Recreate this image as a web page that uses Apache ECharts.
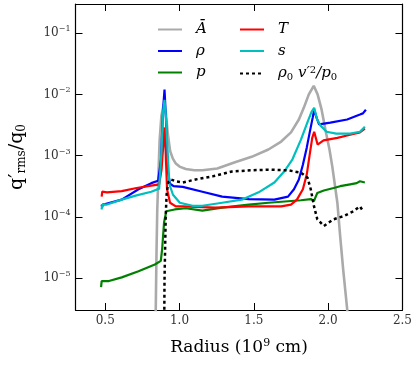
<!DOCTYPE html>
<html>
<head>
<meta charset="utf-8">
<script src="https://cdn.jsdelivr.net/npm/echarts@6/dist/echarts.min.js"></script>
<style>
  html, body { margin: 0; padding: 0; background: #fff; }
  #chart { width: 415px; height: 365px; }
</style>
</head>
<body>
<div id="chart"></div>
<script>
// values: [radius (1e9 cm), log10(q'rms/q0)]
const aBarLog = [[0.83,-6.5],[0.840,-5.51],[0.845,-4.6],[0.850,-3.9],[0.858,-3.3],[0.866,-2.75],[0.878,-2.35],[0.893,-2.17],
  [0.909,-2.32],[0.920,-2.62],[0.937,-2.93],[0.955,-3.05],[0.975,-3.13],[1.00,-3.18],[1.042,-3.22],[1.10,-3.24],[1.154,-3.24],
  [1.254,-3.21],[1.373,-3.11],[1.485,-3.02],[1.598,-2.90],[1.684,-2.77],[1.750,-2.62],[1.803,-2.41],[1.836,-2.22],[1.870,-2.00],
  [1.903,-1.86],[1.929,-2.00],[1.956,-2.25],[1.982,-2.58],[2.009,-2.90],[2.028,-3.18],[2.062,-3.77],[2.081,-4.32],[2.101,-4.86],
  [2.128,-5.51],[2.14,-6.0]];
const rhoLog = [[0.476,-3.80],[0.479,-3.85],[0.483,-3.80],[0.50,-3.79],[0.611,-3.72],[0.724,-3.55],[0.810,-3.45],[0.856,-3.41],
  [0.876,-3.06],[0.889,-2.25],[0.899,-1.92],[0.909,-2.41],[0.919,-3.23],[0.936,-3.46],[0.96,-3.50],[1.022,-3.51],[1.154,-3.59],
  [1.287,-3.67],[1.466,-3.71],[1.638,-3.72],[1.730,-3.67],[1.770,-3.55],[1.803,-3.39],[1.830,-3.15],[1.856,-2.87],[1.876,-2.62],
  [1.896,-2.38],[1.906,-2.25],[1.922,-2.38],[1.939,-2.49],[2.015,-2.46],[2.128,-2.41],[2.214,-2.33],[2.234,-2.31],[2.254,-2.25]];
const pLog = [[0.472,-5.15],[0.476,-5.05],[0.479,-5.08],[0.525,-5.05],[0.611,-4.99],[0.724,-4.89],[0.834,-4.78],[0.874,-4.72],
  [0.883,-4.53],[0.896,-4.09],[0.911,-3.91],[0.967,-3.88],[1.042,-3.86],[1.154,-3.90],[1.287,-3.85],[1.466,-3.80],[1.598,-3.77],
  [1.817,-3.73],[1.883,-3.71],[1.905,-3.74],[1.927,-3.61],[1.971,-3.57],[2.037,-3.53],[2.081,-3.50],[2.148,-3.47],[2.192,-3.45],
  [2.214,-3.42],[2.247,-3.44]];
const tLog = [[0.476,-3.67],[0.480,-3.59],[0.512,-3.60],[0.611,-3.58],[0.711,-3.53],[0.810,-3.49],[0.863,-3.47],[0.879,-3.23],
  [0.893,-2.74],[0.899,-2.54],[0.906,-2.90],[0.916,-3.55],[0.936,-3.77],[0.975,-3.83],[1.022,-3.83],[1.240,-3.85],[1.466,-3.83],
  [1.684,-3.83],[1.750,-3.80],[1.790,-3.72],[1.830,-3.55],[1.856,-3.31],[1.876,-2.98],[1.893,-2.71],[1.906,-2.61],[1.929,-2.82],
  [1.969,-2.75],[2.062,-2.71],[2.148,-2.66],[2.214,-2.62],[2.247,-2.56]];
const sLog = [[0.475,-3.88],[0.482,-3.80],[0.512,-3.80],[0.611,-3.72],[0.711,-3.65],[0.810,-3.59],[0.863,-3.54],[0.879,-2.90],
  [0.889,-2.28],[0.899,-2.09],[0.909,-2.38],[0.919,-2.90],[0.932,-3.47],[0.956,-3.64],[1.002,-3.77],[1.088,-3.82],[1.154,-3.82],
  [1.287,-3.77],[1.419,-3.72],[1.532,-3.60],[1.638,-3.44],[1.704,-3.26],[1.760,-3.06],[1.817,-2.74],[1.863,-2.44],[1.889,-2.28],
  [1.906,-2.22],[1.926,-2.41],[1.949,-2.51],[1.989,-2.61],[2.055,-2.64],[2.148,-2.64],[2.214,-2.61],[2.247,-2.53]];
const kinLog = [[0.895,-6.5],[0.899,-5.02],[0.903,-4.53],[0.907,-3.99],[0.913,-3.64],[0.923,-3.44],[0.942,-3.39],[0.975,-3.42],
  [1.022,-3.44],[1.108,-3.39],[1.221,-3.34],[1.353,-3.26],[1.485,-3.24],[1.598,-3.23],[1.730,-3.24],[1.817,-3.28],[1.861,-3.36],
  [1.883,-3.55],[1.905,-3.83],[1.927,-4.04],[1.971,-4.15],[2.037,-4.04],[2.103,-3.99],[2.170,-3.91],[2.214,-3.83],[2.236,-3.91]];

const xTicks = [0.5, 1.0, 1.5, 2.0, 2.5];
const yTicks = [1e-5, 1e-4, 1e-3, 1e-2, 1e-1];

const serif = 'DejaVu Serif';
const toVals = arr => arr.map(d => [d[0], Math.pow(10, d[1])]);

const names = {
  Abar: '{g|}{i|Ā}',
  rho: '{g|}{i|ρ}',
  p: '{g|}{i|p}',
  T: '{g|}{i|T}',
  s: '{g|}{i|s}',
  kin: '{g|}{i|ρ}{sub|0}{i| v′}{sup|2}{i|/p}{sub|0}'
};

const legendText = {
  fontFamily: serif, fontSize: 15, color: '#000',
  rich: {
    g: { width: 9 },
    i: { fontFamily: serif, fontStyle: 'italic', fontSize: 15, color: '#000' },
    sub: { fontFamily: serif, fontSize: 10, color: '#000', padding: [7, 0, 0, 0] },
    sup: { fontFamily: serif, fontSize: 10, color: '#000', padding: [0, 0, 7, 0] }
  }
};

const chart = echarts.init(document.getElementById('chart'), null, { renderer: 'canvas' });

function line(name, data, color, width, type) {
  return {
    name: name, type: 'line', data: toVals(data),
    showSymbol: false, symbol: 'none', clip: true, silent: true,
    lineStyle: { color: color, width: width, type: type || 'solid' },
    itemStyle: { color: color }
  };
}

const axisLineStyle = { lineStyle: { color: '#000', width: 1.2 } };

function legendBox(items, left) {
  return {
    data: items, orient: 'vertical', left: left, top: 17,
    itemWidth: 24, itemHeight: 14, itemGap: 6.5,
    formatter: n => names[n], textStyle: legendText,
    itemStyle: { opacity: 0 }, selectedMode: false
  };
}

const option = {
  backgroundColor: '#fff',
  animation: false,
  grid: { left: 71, right: 12, top: 4, bottom: 55, containLabel: false },
  legend: [legendBox(['Abar', 'rho', 'p'], 152), legendBox(['T', 's', 'kin'], 234)],
  xAxis: [
    {
      type: 'value', min: 0.3, max: 2.5, position: 'bottom',
      axisLine: axisLineStyle,
      axisTick: { inside: true, length: 7, customValues: xTicks, lineStyle: { color: '#000' } },
      axisLabel: { customValues: xTicks, formatter: v => v.toFixed(1), fontFamily: serif, fontSize: 12, color: '#333', margin: 5 },
      splitLine: { show: false },
      name: 'Radius (10{sup|9} cm)', nameLocation: 'middle', nameGap: 28,
      nameTextStyle: { fontFamily: serif, fontSize: 17, color: '#000',
        rich: { sup: { fontFamily: serif, fontSize: 11, color: '#000', padding: [0, 0, 9, 0] } } }
    },
    {
      type: 'value', min: 0.3, max: 2.5, position: 'top',
      axisLine: axisLineStyle,
      axisTick: { inside: true, length: 7, customValues: xTicks, lineStyle: { color: '#000' } },
      axisLabel: { show: false }, splitLine: { show: false }
    }
  ],
  yAxis: [
    {
      type: 'log', logBase: 10, min: 3e-6, max: 0.3, position: 'left',
      axisLine: axisLineStyle,
      axisTick: { inside: true, length: 7, customValues: yTicks, lineStyle: { color: '#000' } },
      axisLabel: {
        customValues: yTicks, margin: 5, color: '#333',
        formatter: v => '{b|10}{e|−' + Math.round(-Math.log10(v)) + '}',
        rich: {
          b: { fontFamily: serif, fontSize: 12, color: '#333' },
          e: { fontFamily: serif, fontSize: 8, color: '#333', padding: [0, 0, 8, 0] }
        }
      },
      splitLine: { show: false }, minorTick: { show: false },
      name: 'q′{s|rms}/q{s|0}', nameLocation: 'middle', nameRotate: 90, nameGap: 48,
      nameTextStyle: { fontFamily: serif, fontSize: 19, color: '#000',
        rich: { s: { fontFamily: serif, fontSize: 12, color: '#000', padding: [8, 0, 0, 0] } } }
    },
    {
      type: 'log', logBase: 10, min: 3e-6, max: 0.3, position: 'right',
      axisLine: axisLineStyle,
      axisTick: { inside: true, length: 7, customValues: yTicks, lineStyle: { color: '#000' } },
      axisLabel: { show: false }, splitLine: { show: false }
    }
  ],
  series: [
    line('Abar', aBarLog, '#aaaaaa', 2.6),
    line('rho', rhoLog, '#0000ff', 2.2),
    line('p', pLog, '#008000', 2.2),
    line('T', tLog, '#ff0000', 2.2),
    line('s', sLog, '#00bfbf', 2.2),
    line('kin', kinLog, '#000000', 2.5, [3, 3])
  ]
};

chart.setOption(option);
</script>
</body>
</html>
